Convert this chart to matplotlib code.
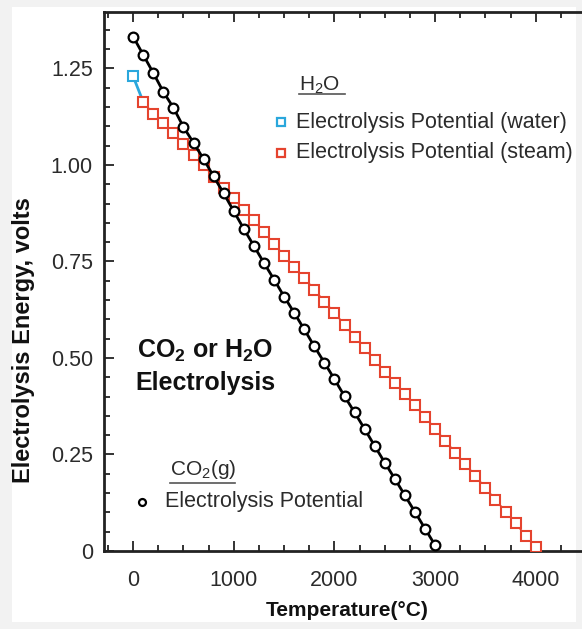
import matplotlib
matplotlib.use("Agg")
import matplotlib.pyplot as plt
from matplotlib.patches import Rectangle
from matplotlib.ticker import MultipleLocator, FixedLocator

plt.rcParams['font.family'] = ['Liberation Sans', 'DejaVu Sans']
plt.rcParams['mathtext.default'] = 'regular'

# CO2(g) electrolysis potential, every 100 C
co2_temp = [0, 100, 200, 300, 400, 500, 600, 700, 800, 900, 1000,
            1100, 1200, 1300, 1400, 1500, 1600, 1700, 1800, 1900, 2000,
            2100, 2200, 2300, 2400, 2500, 2600, 2700, 2800, 2900, 3000]
co2_volts = [1.332, 1.285, 1.238, 1.189, 1.148, 1.098, 1.057, 1.015, 0.970, 0.926, 0.880,
             0.834, 0.790, 0.746, 0.703, 0.659, 0.617, 0.574, 0.530, 0.488, 0.445,
             0.401, 0.359, 0.316, 0.272, 0.229, 0.187, 0.144, 0.101, 0.058, 0.015]

# H2O liquid (one point) and steam
water_temp = [0]
water_volts = [1.229]
steam_temp = [100, 200, 300, 400, 500, 600, 700, 800, 900, 1000,
              1100, 1200, 1300, 1400, 1500, 1600, 1700, 1800, 1900, 2000,
              2100, 2200, 2300, 2400, 2500, 2600, 2700, 2800, 2900, 3000,
              3100, 3200, 3300, 3400, 3500, 3600, 3700, 3800, 3900, 4000]
steam_volts = [1.163, 1.132, 1.109, 1.083, 1.054, 1.026, 1.000, 0.969, 0.940, 0.914,
               0.883, 0.857, 0.826, 0.795, 0.765, 0.735, 0.707, 0.677, 0.646, 0.617,
               0.586, 0.555, 0.525, 0.495, 0.464, 0.436, 0.406, 0.377, 0.348, 0.316,
               0.286, 0.255, 0.225, 0.195, 0.163, 0.133, 0.102, 0.072, 0.040, 0.010]

x_ticks = [0, 1000, 2000, 3000, 4000]
y_ticks = [0, 0.25, 0.5, 0.75, 1.0, 1.25]
y_tick_labels = ['0', '0.25', '0.50', '0.75', '1.00', '1.25']

red = '#e5432e'
blue = '#2aa7dc'
txt = '#2b2b2b'

fig = plt.figure(figsize=(5.82, 6.29), dpi=100, facecolor='#f2f2f2')
# white card on the light grey page
fig.patches.append(Rectangle((12 / 582, 1 - 622 / 629), 564 / 582, 615 / 629,
                             transform=fig.transFigure, facecolor='white',
                             edgecolor='none', zorder=-10))
ax = fig.add_axes([104 / 582, 1 - 551 / 629, 1 - 104 / 582, (551 - 12) / 629])
ax.patch.set_alpha(0)

# blue joins the liquid point to the first steam point
ax.plot([water_temp[0], steam_temp[0]], [water_volts[0], steam_volts[0]],
        color=blue, lw=2, zorder=2)
ax.plot(steam_temp, steam_volts, color=red, lw=1.3, marker='s', ms=7.5,
        mfc='white', mec=red, mew=1.5, zorder=3)
ax.plot(water_temp, water_volts, ls='none', marker='s', ms=7.5,
        mfc='white', mec=blue, mew=1.5, zorder=3)
ax.plot(co2_temp, co2_volts, color='black', lw=2, marker='o', ms=7,
        mfc='white', mec='black', mew=1.6, zorder=4)

ax.set_xlim(-290, 4460)
ax.set_ylim(0, 1.396)

ax.xaxis.set_major_locator(FixedLocator(x_ticks))
ax.xaxis.set_minor_locator(MultipleLocator(250))
ax.yaxis.set_major_locator(FixedLocator(y_ticks))
ax.yaxis.set_minor_locator(MultipleLocator(0.05))
ax.set_yticklabels(y_tick_labels)
ax.tick_params(which='both', direction='in', top=True, right=False,
               width=1.4, colors='#333333', labelsize=15.5, labelcolor=txt)
ax.tick_params(axis='x', which='major', length=7, pad=14)
ax.tick_params(axis='y', which='major', length=7, pad=8)
ax.tick_params(which='minor', length=4)
for s in ['left', 'bottom', 'top']:
    ax.spines[s].set_linewidth(2)
    ax.spines[s].set_color('#222222')
ax.spines['right'].set_visible(False)

fig.text(347 / 582, 1 - 610 / 629, 'Temperature(°C)', ha='center', va='center',
         fontsize=15, fontweight='bold', color='#111111')
fig.text(24 / 582, 1 - 340 / 629, 'Electrolysis Energy, volts', ha='center', va='center',
         rotation=90, fontsize=17, fontweight='bold', color='#111111')

# H2O legend
ax.text(1650, 1.205, 'H$_2$O', fontsize=15, color=txt, va='center')
ax.plot([1650, 2100], [1.184, 1.184], color='#555555', lw=1.2)
ax.plot([1470], [1.111], ls='none', marker='s', ms=5.5, mfc='white', mec=blue, mew=1.6)
ax.text(1615, 1.111, 'Electrolysis Potential (water)', fontsize=15.5, color=txt, va='center')
ax.plot([1470], [1.031], ls='none', marker='s', ms=5.5, mfc='white', mec=red, mew=1.6)
ax.text(1615, 1.031, 'Electrolysis Potential (steam)', fontsize=15.5, color=txt, va='center')

# title block
ax.text(715, 0.478, 'CO$_2$ or H$_2$O\nElectrolysis', fontsize=18, fontweight='bold',
        color='#111111', ha='center', va='center', linespacing=1.35)

# CO2 legend
ax.text(367, 0.21, 'CO$_2$(g)', fontsize=15, color=txt, va='center')
ax.plot([367, 1015], [0.176, 0.176], color='#555555', lw=1.2)
ax.plot([89], [0.127], ls='none', marker='o', ms=5, mfc='white', mec='black', mew=1.6)
ax.text(318, 0.127, 'Electrolysis Potential', fontsize=15.5, color=txt, va='center')

fig.savefig('out.png', dpi=100, facecolor=fig.get_facecolor())
